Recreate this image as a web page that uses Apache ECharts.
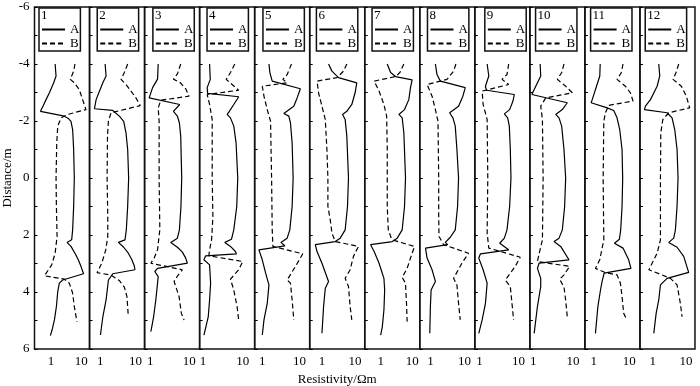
<!DOCTYPE html>
<html><head><meta charset="utf-8">
<script src="https://cdn.jsdelivr.net/npm/echarts@6/dist/echarts.min.js"></script>
<style>html,body{margin:0;padding:0;background:#fff}#c{width:700px;height:386px}</style>
</head><body><div id="c"></div>
<script>
// ---------- data ----------
const panelLabels = ['1','2','3','4','5','6','7','8','9','10','11','12'];
const xTickLabels = [1, 10];
const yTickLabels = [-6, -4, -2, 0, 2, 4, 6];
const xMin = [0.282,0.502,0.718,0.826,0.623,0.427,0.312,0.489,0.76,0.826,0.56,0.41];
const xMax = [18.8,17.9,18.3,19.95,18.9,19.5,17.5,20,19.4,20,19.9,18.6];

const p1A = [[1.36,-4],[1.46,-3.58],[1.22,-3.34],[0.88,-2.99],[0.68,-2.75],[0.53,-2.5],[0.445,-2.34],[2.75,-2.17],[3.73,-2.09],[4.56,-1.99],[5.18,-1.7],[5.59,-1.0],[5.88,0],[5.59,1.0],[5.18,1.82],[4.8,2.17],[3.37,2.26],[4.56,2.4],[6.18,2.64],[7.96,2.87],[9.75,3.1],[11.9,3.36],[2.42,3.58],[1.88,3.69],[1.66,3.99],[1.5,4.51],[1.29,4.98],[1.11,5.28],[0.95,5.53]];
const p1B = [[6.18,-4],[5.59,-3.75],[4.34,-3.46],[5.88,-3.34],[8.59,-3.1],[11.1,-2.75],[14.3,-2.4],[3.54,-2.23],[2.14,-2.11],[1.66,-1.82],[1.54,-1.23],[1.46,0],[1.5,1.0],[1.58,2.05],[1.36,2.64],[1.05,3.05],[0.6,3.43],[2.75,3.55],[4.02,3.69],[5.18,4.04],[5.88,4.51],[7.2,5.04]];
const p2A = [[1.38,-4],[1.47,-3.58],[1.19,-3.34],[0.96,-3.05],[0.77,-2.75],[0.69,-2.43],[2.27,-2.37],[3.48,-2.17],[4.61,-1.99],[5.36,-1.58],[5.97,-1.0],[6.36,0],[5.97,1.0],[5.47,1.82],[5.02,2.17],[3.27,2.26],[4.61,2.43],[6.23,2.64],[7.73,2.85],[9.18,3.08],[9.58,3.22],[2.27,3.36],[1.71,3.58],[1.47,4.28],[1.19,4.87],[1.02,5.51]];
const p2B = [[5.97,-4],[4.81,-3.7],[3.88,-3.46],[5.36,-3.28],[7.4,-3.05],[10.2,-2.81],[13.5,-2.54],[2.03,-2.29],[1.71,-1.99],[1.61,-1.47],[1.57,0],[1.64,1.35],[1.64,2.05],[1.44,2.52],[1.11,2.99],[0.82,3.32],[2.03,3.41],[3.48,3.6],[4.81,3.83],[5.7,4.16],[6.23,4.87]];
const p3A = [[1.6,-4],[1.54,-3.47],[1.15,-3.17],[0.94,-2.81],[5.68,-2.58],[3.92,-2.34],[4.95,-2.17],[5.57,-1.93],[6.02,-1.47],[6.38,0],[6.1,1.0],[5.57,1.82],[4.95,2.11],[3.35,2.26],[4.95,2.43],[6.64,2.6],[8.07,2.81],[8.9,2.99],[1.54,3.17],[1.31,3.28],[1.6,3.46],[1.54,3.69],[1.39,4.28],[1.22,4.87],[1.04,5.39]];
const p3B = [[6.02,-4],[4.95,-3.65],[3.92,-3.47],[5.8,-3.35],[8.07,-3.13],[9.8,-2.87],[1.87,-2.73],[1.6,-2.46],[1.69,-1.99],[1.69,0],[1.76,1.82],[1.54,2.52],[1.26,2.81],[1.04,2.99],[6.64,3.22],[4.95,3.44],[4.08,3.63],[5.46,4.16],[6.26,4.75],[7.32,4.98]];
const p4A = [[1.47,-4],[1.53,-3.46],[1.28,-3.17],[1.31,-2.97],[7.94,-2.85],[5.96,-2.58],[4.47,-2.31],[4.06,-2.23],[4.92,-2.11],[5.96,-1.82],[6.81,-1.23],[7.5,0],[7.08,1.0],[5.96,1.82],[5.21,2.15],[3.55,2.26],[4.92,2.4],[6.56,2.58],[6.95,2.66],[1.17,2.73],[1.06,2.87],[1.47,3.05],[1.56,3.69],[1.47,4.28],[1.36,4.87],[1.06,5.51]];
const p4B = [[6.31,-4],[4.92,-3.7],[3.83,-3.46],[6.31,-3.2],[7.94,-3.08],[1.28,-2.93],[1.47,-2.58],[1.71,-2.05],[1.71,0],[1.78,1.35],[1.65,2.17],[1.47,2.52],[1.41,2.73],[10,2.93],[7.94,3.22],[4.92,3.55],[5.96,3.93],[7.21,4.51],[7.94,5.0]];
const p5A = [[1.51,-4],[1.6,-3.7],[1.85,-3.4],[10.6,-3.13],[8.66,-2.81],[7.05,-2.52],[3.8,-2.26],[5.18,-2.17],[5.74,-1.93],[6.36,-1.23],[6.77,0],[6.36,1.0],[5.51,1.82],[4.67,2.11],[3.16,2.26],[4.05,2.38],[0.81,2.52],[1.0,2.87],[1.23,3.34],[1.51,3.75],[1.36,4.4],[1.11,4.98],[1.0,5.51]];
const p5B = [[6.11,-4],[4.67,-3.63],[3.58,-3.46],[4.67,-3.34],[1.0,-3.22],[1.11,-2.87],[1.36,-2.4],[1.67,-1.99],[1.78,0],[1.85,1.82],[1.93,2.4],[12.3,2.66],[7.82,3.1],[4.67,3.58],[5.74,3.69],[6.36,4.28],[7.05,4.98]];
const p6A = [[1.58,-4],[2.0,-3.75],[3.16,-3.52],[11.2,-3.34],[10.0,-2.99],[7.94,-2.58],[5.62,-2.34],[4.17,-2.23],[5.01,-2.05],[5.62,-1.47],[6.31,0],[5.89,1.0],[5.01,1.82],[3.55,2.11],[2.51,2.23],[0.63,2.34],[0.71,2.58],[1.0,2.99],[1.58,3.63],[1.26,3.87],[1.12,4.51],[1.0,5.45]];
const p6B = [[5.62,-4],[4.47,-3.75],[2.82,-3.52],[0.71,-3.4],[0.79,-2.99],[1.0,-2.52],[1.26,-2.05],[1.41,-1.0],[1.51,0],[1.51,1.0],[1.78,1.47],[2.0,1.93],[2.51,2.23],[12.6,2.4],[8.91,2.75],[7.08,3.22],[5.01,3.52],[6.31,3.81],[7.08,4.51],[7.94,4.98]];
const p7A = [[1.62,-4],[2.07,-3.7],[2.98,-3.56],[10.0,-3.44],[8.86,-3.17],[7.85,-2.75],[5.73,-2.4],[3.79,-2.23],[4.83,-2.11],[5.46,-1.58],[6.16,0],[5.73,1.0],[4.83,1.82],[3.36,2.11],[2.34,2.23],[0.48,2.34],[0.62,2.58],[0.89,2.99],[1.27,3.52],[1.44,3.58],[1.34,3.93],[1.27,4.63],[1.13,5.22],[1.0,5.51]];
const p7B = [[5.46,-4],[4.08,-3.7],[2.98,-3.56],[0.62,-3.4],[0.89,-3.05],[1.27,-2.58],[1.55,-2.17],[1.62,-1.0],[1.62,1.0],[1.75,1.82],[2.17,2.11],[2.64,2.19],[11.9,2.4],[8.86,2.81],[6.95,3.17],[4.83,3.49],[6.16,3.69],[6.62,4.4],[6.95,5.04]];
const p8A = [[1.4,-4],[1.56,-3.63],[1.96,-3.4],[10.5,-3.17],[8.94,-2.87],[6.68,-2.52],[3.66,-2.29],[4.57,-2.11],[5.35,-1.82],[5.98,-1.0],[6.68,0],[6.25,1.0],[5.35,1.82],[3.83,2.08],[2.73,2.26],[3.2,2.34],[0.72,2.46],[0.8,2.81],[1.12,3.22],[1.4,3.63],[1.05,3.93],[1.0,4.51],[0.96,5.45]];
const p8B = [[5.59,-4],[4.78,-3.75],[3.06,-3.46],[0.8,-3.28],[1.12,-2.87],[1.4,-2.4],[1.67,-1.99],[1.75,0],[1.75,1.35],[1.79,2.05],[2.45,2.34],[13.1,2.64],[8.37,2.99],[4.78,3.52],[5.98,3.75],[6.68,4.4],[7.48,4.98]];
const p9A = [[1.57,-4],[1.73,-3.58],[1.42,-3.22],[1.51,-3.08],[7.76,-2.93],[7.18,-2.7],[5.9,-2.4],[4.32,-2.25],[5.25,-2.11],[5.79,-1.82],[6.14,-1.0],[6.38,0],[5.9,1.0],[5.05,1.82],[4.32,2.11],[3.29,2.29],[5.57,2.52],[1.06,2.66],[0.96,2.81],[1.24,3.22],[1.57,3.69],[1.42,4.4],[1.17,4.98],[0.96,5.45]];
const p9B = [[5.57,-4],[5.05,-3.63],[3.77,-3.46],[5.57,-3.28],[1.17,-3.05],[1.24,-2.58],[1.57,-2.05],[1.63,0],[1.57,1.93],[1.73,2.46],[11.0,2.78],[8.23,3.1],[6.14,3.34],[4.58,3.58],[6.14,3.81],[6.77,4.4],[7.46,4.98]];
const p10A = [[1.5,-4],[1.55,-3.58],[1.28,-3.34],[1.02,-3.05],[0.93,-2.93],[7.21,-2.64],[5.41,-2.4],[3.69,-2.23],[4.47,-2.11],[5.21,-1.82],[5.96,-1.0],[6.56,0],[6.19,1.0],[5.41,1.82],[4.47,2.11],[3.35,2.23],[4.92,2.4],[7.94,2.87],[1.41,2.99],[1.28,3.17],[1.55,3.52],[1.55,3.81],[1.28,4.51],[1.06,5.45]];
const p10B = [[5.96,-4],[5.21,-3.7],[4.06,-3.46],[6.56,-3.22],[9.62,-2.99],[2.07,-2.81],[1.55,-2.52],[1.71,-2.05],[1.78,0],[1.71,2.17],[1.41,2.66],[1.28,2.93],[8.25,3.1],[5.96,3.4],[4.64,3.55],[5.96,3.83],[6.56,4.28],[7.21,4.87]];
const p11A = [[1.51,-4],[1.47,-3.58],[1.19,-3.22],[0.9,-2.75],[0.84,-2.64],[2.37,-2.46],[3.64,-2.37],[4.51,-2.11],[5.36,-1.7],[6.23,-1.0],[6.5,0],[6.23,1.0],[5.71,1.82],[5.25,2.15],[3.8,2.29],[6.64,2.46],[9.58,2.87],[11.1,3.17],[1.95,3.34],[1.71,3.63],[1.54,3.93],[1.3,4.51],[1.11,5.45]];
const p11B = [[6.64,-4],[5.97,-3.7],[4.51,-3.46],[7.73,-3.22],[10.7,-2.99],[12.7,-2.7],[2.63,-2.55],[2.12,-2.29],[1.91,-1.99],[1.83,0],[1.91,2.17],[1.47,2.87],[1.11,3.17],[2.12,3.32],[4.51,3.4],[5.6,3.69],[6.23,4.16],[6.94,4.75],[8.6,4.98]];
const p12A = [[1.51,-4],[1.62,-3.58],[1.35,-3.22],[0.85,-2.75],[0.6,-2.52],[0.56,-2.4],[2.69,-2.29],[3.8,-2.11],[4.57,-1.7],[5.37,-1.0],[5.75,0],[5.37,1.0],[4.79,1.82],[4.27,2.11],[3.02,2.26],[5.37,2.43],[8.51,2.75],[12.0,3.31],[2.69,3.52],[1.7,3.75],[1.51,4.28],[1.26,4.75],[1.07,5.45]];
const p12B = [[6.03,-4],[5.01,-3.7],[4.07,-3.46],[7.24,-3.22],[10.2,-2.87],[12.9,-2.46],[3.02,-2.29],[2.0,-2.05],[1.74,-1.58],[1.7,0],[1.7,2.17],[1.35,2.64],[0.76,3.22],[3.39,3.52],[5.37,3.75],[6.76,4.4],[7.59,4.87]];

const seriesA = [p1A,p2A,p3A,p4A,p5A,p6A,p7A,p8A,p9A,p10A,p11A,p12A];
const seriesB = [p1B,p2B,p3B,p4B,p5B,p6B,p7B,p8B,p9B,p10B,p11B,p12B];

// ---------- layout ----------
const FONT = "'Liberation Serif', 'Times New Roman', serif";
const L0 = 34.5, PW = 55.04, TOP = 7, H = 342;
const legendOff = [4.5,7.7,8.3,7.4,8.3,6.7,7.3,7.7,10,5.7,5.7,5.3];

const grid = [], xAxis = [], yAxis = [], series = [], legend = [], title = [];
for (let i = 0; i < 12; i++) {
  const left = L0 + PW * i;
  grid.push({left: left, top: TOP, width: PW, height: H, show: true,
    outerBoundsMode: 'none', containLabel: false,
    borderColor: '#111', borderWidth: 1.5, backgroundColor: 'transparent'});
  xAxis.push({
    type: 'log', logBase: 10, gridIndex: i, min: xMin[i], max: xMax[i],
    axisLine: {show: false}, axisTick: {show: false}, splitLine: {show: false},
    axisLabel: {
      color: '#000', fontFamily: FONT, fontSize: 13, margin: 6,
      formatter: v => (xTickLabels.some(t => Math.abs(t - v) < 1e-6) ? String(Math.round(v)) : '')
    },
    name: i === 5 ? 'Resistivity/Ωm' : '', nameLocation: 'middle', nameGap: 21,
    nameTextStyle: {color: '#000', fontFamily: FONT, fontSize: 13}
  });
  yAxis.push({
    type: 'value', gridIndex: i, min: -6, max: 6, interval: 1, inverse: true,
    axisLine: {show: false}, splitLine: {show: false},
    axisTick: {show: true, inside: true, length: 3, lineStyle: {color: '#000', width: 1}},
    axisLabel: {
      show: i === 0, color: '#000', fontFamily: FONT, fontSize: 13, margin: 5,
      formatter: v => (yTickLabels.indexOf(v) >= 0 ? String(v) : '')
    },
    name: i === 0 ? 'Distance/m' : '', nameLocation: 'middle', nameGap: 20, nameRotate: 90,
    nameTextStyle: {color: '#000', fontFamily: FONT, fontSize: 13}
  });
  series.push({
    type: 'line', name: 'A', xAxisIndex: i, yAxisIndex: i, data: seriesA[i],
    symbol: 'none', showSymbol: false, animation: false,
    lineStyle: {color: '#000', width: 1.2, type: 'solid'}, itemStyle: {color: '#000'}
  });
  series.push({
    type: 'line', name: 'B', xAxisIndex: i, yAxisIndex: i, data: seriesB[i],
    symbol: 'none', showSymbol: false, animation: false,
    lineStyle: {color: '#000', width: 1.2, type: [5, 3]}, itemStyle: {color: '#000'}
  });
  legend.push({
    left: left + legendOff[i], top: 8, orient: 'vertical', data: ['A', 'B'],
    itemWidth: 23, itemHeight: 12, itemGap: 1, padding: [15, 1, 1, 2],
    borderColor: '#111', borderWidth: 1.5, borderRadius: 0, selectedMode: false,
    textStyle: {fontFamily: FONT, fontSize: 13, color: '#000', padding: 0},
    itemStyle: {opacity: 0}
  });
  title.push({
    text: panelLabels[i], left: left + legendOff[i] + 2, top: 8, padding: [1, 0, 0, 0],
    textStyle: {fontFamily: FONT, fontSize: 13, fontWeight: 'normal', color: '#000'}
  });
}

const chart = echarts.init(document.getElementById('c'), null, {renderer: 'canvas'});
chart.setOption({animation: false, backgroundColor: '#fff', grid, xAxis, yAxis, series, legend, title});
</script>
</body></html>
